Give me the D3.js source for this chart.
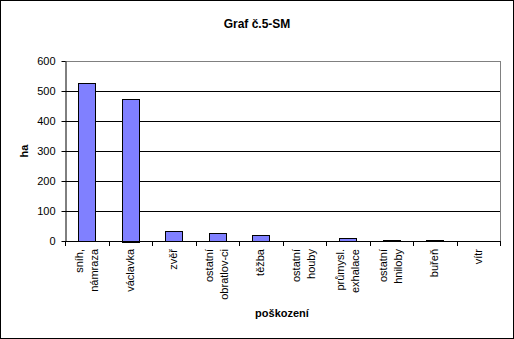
<!DOCTYPE html>
<html>
<head>
<meta charset="utf-8">
<script src="https://cdn.jsdelivr.net/npm/d3@7"></script>
<style>
  body { margin: 0; background: #fff; }
  text { font-family: "Liberation Sans", Arial, sans-serif; }
</style>
</head>
<body>
<script>
// chart data
var categories = ["sníh,|námraza", "václavka", "zvěř", "ostatní|obratlov-ci", "těžba",
                  "ostatní|houby", "průmysl.|exhalace", "ostatní|hniloby", "buřeň", "vítr"];
var values = [528, 475, 34, 26, 20, 0, 9, 3, 3, 0];
var yTicks = [0, 100, 200, 300, 400, 500, 600];

var W = 514, H = 339;
var m = {left: 65, top: 61, right: 14, bottom: 98};
var w = W - m.left - m.right, h = H - m.top - m.bottom;

var svg = d3.select("body").append("svg").attr("width", W).attr("height", H);

// outer frame
svg.append("rect")
  .attr("x", 0.5).attr("y", 0.5)
  .attr("width", W - 1).attr("height", H - 1)
  .style("fill", "white").style("stroke", "black");

var g = svg.append("g").attr("transform", "translate(" + m.left + "," + m.top + ")");

var x = d3.scaleBand().domain(categories).range([0, w]).paddingInner(0.6).paddingOuter(0.3);
var xb = d3.scaleBand().domain(categories).range([0, w]);
var y = d3.scaleLinear().domain([0, 600]).range([h, 0]);

// gridlines
g.selectAll(".grid").data(yTicks.slice(1))
  .enter().append("line")
    .attr("class", "grid")
    .attr("x1", 0).attr("x2", w)
    .attr("y1", d => Math.round(y(d)) + 0.5).attr("y2", d => Math.round(y(d)) + 0.5)
    .style("stroke", "black");

// plot area border (top and right grey)
g.append("line").attr("x1", 0).attr("x2", w).attr("y1", 0.5).attr("y2", 0.5).style("stroke", "#808080");
g.append("line").attr("x1", w + 0.5).attr("x2", w + 0.5).attr("y1", 0).attr("y2", h).style("stroke", "#808080");

// bars
g.selectAll(".bar").data(values)
  .enter().append("rect")
    .attr("class", "bar")
    .attr("x", (d, i) => Math.round(x(categories[i])) + 0.5)
    .attr("width", Math.round(x.bandwidth()))
    .attr("y", d => Math.round(y(d)) + 0.5)
    .attr("height", d => Math.max(0, Math.round(h - y(d))))
    .style("fill", "#8080FF")
    .style("stroke", "black");

// y axis
var yAxis = g.append("g").attr("transform", "translate(0.5,0)")
  .call(d3.axisLeft(y).tickValues(yTicks).tickSize(4).tickSizeOuter(0));
yAxis.select(".domain").style("stroke", "black");
yAxis.selectAll(".tick").attr("transform", d => "translate(0," + (Math.round(y(d)) + 0.5) + ")");
yAxis.selectAll("text").style("font-size", "11px").attr("x", -10).attr("fill", "black")
  .style("font-family", "'Liberation Sans', Arial, sans-serif");

// x axis
var xTickPos = categories.map(c => xb(c)).concat([w]);
var xAxisG = g.append("g").attr("transform", "translate(0," + h + ")");
xAxisG.append("line").attr("x1", 0).attr("x2", w).attr("y1", 0.5).attr("y2", 0.5).style("stroke", "black");
xAxisG.selectAll(".xt").data(xTickPos)
  .enter().append("line")
    .attr("class", "xt")
    .attr("x1", d => Math.round(d) + 0.5).attr("x2", d => Math.round(d) + 0.5)
    .attr("y1", 0).attr("y2", 5)
    .style("stroke", "black");

// category labels, rotated
categories.forEach(function(c, i) {
  var lines = c.split("|");
  var cx = xb(c) + xb.bandwidth() / 2;
  lines.forEach(function(t, j) {
    var off = (j - (lines.length - 1) / 2) * 15;
    xAxisG.append("text")
      .text(t)
      .attr("transform", "translate(" + (cx + off + 3.5) + ",8) rotate(-90)")
      .style("text-anchor", "end")
      .style("font-size", "11px")
      .attr("fill", "black");
  });
});

// titles
svg.append("text").text("Graf č.5-SM")
  .attr("x", 257).attr("y", 28)
  .style("text-anchor", "middle").style("font-size", "12px").style("font-weight", "bold");

svg.append("text").text("ha")
  .attr("transform", "translate(28,151) rotate(-90)")
  .style("text-anchor", "middle").style("font-size", "11px").style("font-weight", "bold");

svg.append("text").text("poškození")
  .attr("x", 282).attr("y", 317)
  .style("text-anchor", "middle").style("font-size", "11px").style("font-weight", "bold");
</script>
</body>
</html>
